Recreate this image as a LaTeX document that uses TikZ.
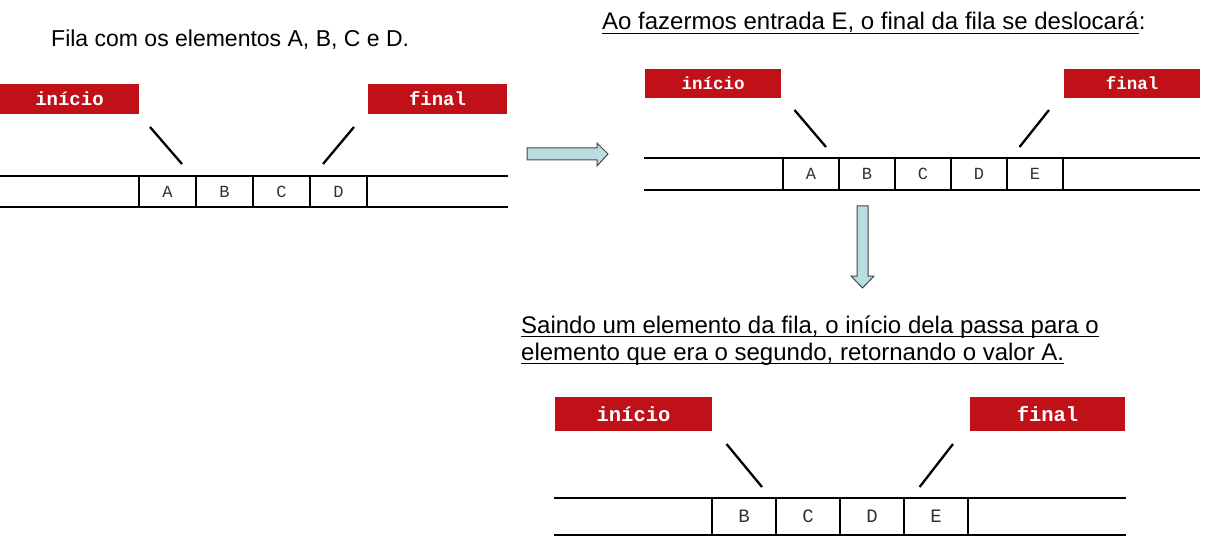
\documentclass[tikz,border=0pt]{standalone}
\usepackage{fontspec}
\setmainfont{Liberation Sans}
\newfontfamily\monofont{Liberation Mono}
\definecolor{lblred}{RGB}{192,16,24}
\definecolor{arrfill}{RGB}{185,221,225}
\definecolor{arrline}{RGB}{70,70,70}
\definecolor{celltext}{RGB}{50,50,50}
\begin{document}
\begin{tikzpicture}[x=1pt,y=-1pt,
  lbl/.style={fill=lblred,text=white,inner sep=0pt,font=\monofont\bfseries},
  cellbox/.style={draw=black,line width=2.4pt,inner sep=0pt,text=celltext,font=\monofont},
  qline/.style={line width=2.8pt,black},
  ptr/.style={line width=2.3pt,black},
  blockarrow/.style={fill=arrfill,draw=arrline,line width=1pt,line join=miter},
  ttl/.style={anchor=base west,inner sep=0pt},
  uline/.style={line width=1.5pt,black}]
\useasboundingbox (0,0) rectangle (1213,556);

% ---------- Titles ----------
\node[ttl,font=\fontsize{23}{23}\selectfont] (t1) at (51,47) {Fila com os elementos A, B, C e D.};

\node[ttl,font=\fontsize{24}{24}\selectfont] (t2) at (602,30) {Ao fazermos entrada E, o final da fila se deslocará};
\node[ttl,font=\fontsize{24}{24}\selectfont] (t2c) at (t2.base east) {:};
\draw[uline] ([yshift=-3.5pt]t2.base west) -- ([yshift=-3.5pt]t2.base east);

\node[ttl,font=\fontsize{24}{24}\selectfont] (t3a) at (521,333) {Saindo um elemento da fila, o início dela passa para o};
\node[ttl,font=\fontsize{24}{24}\selectfont] (t3b) at (521,360) {elemento que era o segundo, retornando o valor A.};
\draw[uline] ([yshift=-3.5pt]t3a.base west) -- ([yshift=-3.5pt]t3a.base east);
\draw[uline] ([yshift=-3.5pt]t3b.base west) -- ([yshift=-3.5pt]t3b.base east);

% ---------- Panel 1 ----------
\coordinate (p1tl) at (0,176);  \coordinate (p1tr) at (508,176);
\coordinate (p1bl) at (0,207);  \coordinate (p1br) at (508,207);
\draw[qline] (p1tl) -- (p1tr);
\draw[qline] (p1bl) -- (p1br);
\foreach \n/\x in {A/167.5,B/224.5,C/281.5,D/338.5}
  \node[cellbox,minimum width=57pt,minimum height=31pt,font=\monofont\fontsize{17}{17}\selectfont] (p1\n) at (\x,191.5) {\n};
\node[lbl,minimum width=139pt,minimum height=30pt,font=\monofont\bfseries\fontsize{19}{19}\selectfont] (p1ini) at (69.5,99) {início};
\node[lbl,minimum width=139pt,minimum height=30pt,font=\monofont\bfseries\fontsize{19}{19}\selectfont] (p1fin) at (437.5,99) {final};
\coordinate (p1ia) at (150,127); \coordinate (p1ib) at (182,164);
\coordinate (p1fa) at (354,127); \coordinate (p1fb) at (323,164);
\draw[ptr] (p1ia) -- (p1ib);
\draw[ptr] (p1fa) -- (p1fb);

% ---------- Arrow right ----------
\draw[blockarrow] (527,148) -- (597,148) -- (597,143) -- (608,154) -- (597,166) -- (597,160) -- (527,160) -- cycle;

% ---------- Panel 2 ----------
\coordinate (p2tl) at (644,158);  \coordinate (p2tr) at (1200,158);
\coordinate (p2bl) at (644,190);  \coordinate (p2br) at (1200,190);
\draw[qline] (p2tl) -- (p2tr);
\draw[qline] (p2bl) -- (p2br);
\foreach \n/\x in {A/811,B/867,C/923,D/979,E/1035}
  \node[cellbox,minimum width=56pt,minimum height=32pt,font=\monofont\fontsize{17}{17}\selectfont] (p2\n) at (\x,174) {\n};
\node[lbl,minimum width=136pt,minimum height=29pt,font=\monofont\bfseries\fontsize{17.5}{17.5}\selectfont] (p2ini) at (713,83.5) {início};
\node[lbl,minimum width=136pt,minimum height=29pt,font=\monofont\bfseries\fontsize{17.5}{17.5}\selectfont] (p2fin) at (1132,83.5) {final};
\coordinate (p2ia) at (794.5,110); \coordinate (p2ib) at (826,147);
\coordinate (p2fa) at (1049,110); \coordinate (p2fb) at (1019.5,147);
\draw[ptr] (p2ia) -- (p2ib);
\draw[ptr] (p2fa) -- (p2fb);

% ---------- Arrow down ----------
\draw[blockarrow] (857,206) -- (868,206) -- (868,276) -- (874,276) -- (862.5,288) -- (851,276) -- (857,276) -- cycle;

% ---------- Panel 3 ----------
\coordinate (p3tl) at (554,498);  \coordinate (p3tr) at (1126,498);
\coordinate (p3bl) at (554,535);  \coordinate (p3br) at (1126,535);
\draw[qline] (p3tl) -- (p3tr);
\draw[qline] (p3bl) -- (p3br);
\foreach \n/\x in {B/744,C/808,D/872,E/936}
  \node[cellbox,minimum width=64pt,minimum height=37pt,font=\monofont\fontsize{19}{19}\selectfont] (p3\n) at (\x,516.5) {\n};
\node[lbl,minimum width=157pt,minimum height=34pt,font=\monofont\bfseries\fontsize{20.5}{20.5}\selectfont] (p3ini) at (633.5,414) {início};
\node[lbl,minimum width=155pt,minimum height=34pt,font=\monofont\bfseries\fontsize{20.5}{20.5}\selectfont] (p3fin) at (1047.5,414) {final};
\coordinate (p3ia) at (726.5,444); \coordinate (p3ib) at (762,487);
\coordinate (p3fa) at (953,444); \coordinate (p3fb) at (919.6,487);
\draw[ptr] (p3ia) -- (p3ib);
\draw[ptr] (p3fa) -- (p3fb);
\end{tikzpicture}
\end{document}
